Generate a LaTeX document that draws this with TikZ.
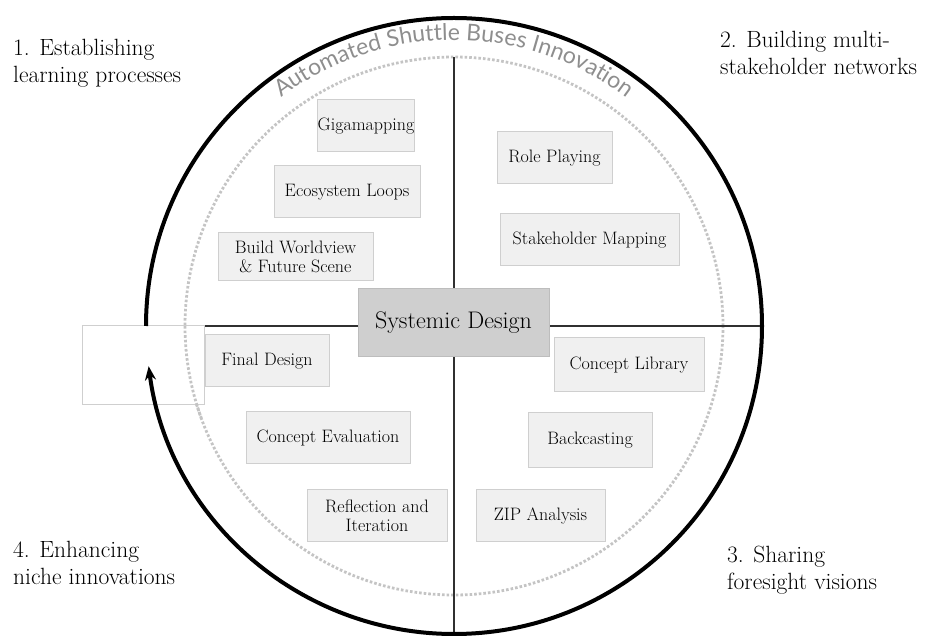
\documentclass[tikz,border=0pt]{standalone}
\usepackage{fontspec}
\usetikzlibrary{arrows.meta,decorations.text,calc}
\newfontfamily\arcfont{Lato}
\definecolor{boxfill}{HTML}{F0F0F0}
\definecolor{boxline}{HTML}{CFCFCF}
\definecolor{centerfill}{HTML}{CFCFCF}
\definecolor{centerline}{HTML}{BDBDBD}
\definecolor{dotgray}{HTML}{C4C4C4}
\definecolor{arcgray}{HTML}{8E8E8E}
\definecolor{axisline}{HTML}{303030}
\tikzset{
  x=1pt, y=1pt,
  methodbox/.style={draw=boxline, fill=boxfill, line width=1pt, inner sep=0pt, align=center,
    font=\fontsize{18}{19.5}\selectfont},
  centerbox/.style={draw=centerline, fill=centerfill, line width=1pt, inner sep=0pt,
    font=\fontsize{24}{26}\selectfont},
  emptybox/.style={draw=boxline, fill=white, line width=1pt, inner sep=0pt},
  cornerlabel/.style={inner sep=0pt, align=left, font=\fontsize{23.5}{26.5}\selectfont},
  axis/.style={draw=axisline, line width=2pt},
  outerring/.style={draw=black, line width=4pt},
  dotring/.style={draw=dotgray, line width=2.8pt, dash pattern=on 2.6pt off 2pt},
}
\begin{document}
\begin{tikzpicture}
\useasboundingbox (0,0) rectangle (927,635);
\coordinate (O) at (454,309);
\coordinate (Ltop) at ($(O)+(0,269)$);
\coordinate (Lbot) at ($(O)+(0,-308)$);
\coordinate (Lleft) at ($(O)+(-308,0)$);
\coordinate (Lright) at ($(O)+(308,0)$);
\coordinate (ArcS) at ($(O)+(130:286)$);
\coordinate (DotS) at ($(O)+(180:269)$);

% dotted inner ring
\draw[dotring] (O) circle[radius=269];

% axes
\draw[axis] (Ltop) -- (Lbot);
\draw[axis] (Lleft) -- (Lright);

% empty box
\node[emptybox, minimum width=122pt, minimum height=79pt] (empty) at (143,269.5) {};
\draw[dotring] (DotS) arc[start angle=180, end angle=200, radius=269];

% outer ring with arrow
\draw[outerring, -{Stealth[length=14pt,width=11pt]}] (Lleft) arc[start angle=180, end angle=-172.5, radius=308];

% arc text
\path[decorate, decoration={text along path, text color=arcgray, text align=center,
  text={|\arcfont\fontsize{23}{23}\selectfont|Automated Shuttle Buses Innovation}}]
  (ArcS) arc[start angle=130, end angle=50, radius=286];

% method boxes
\node[methodbox, minimum width=96pt, minimum height=52pt] (giga) at (366,509) {Gigamapping};
\node[methodbox, minimum width=146pt, minimum height=52pt] (eco) at (347,443) {Ecosystem Loops};
\node[methodbox, minimum width=155pt, minimum height=48pt] (world) at (295.5,378) {Build Worldview\\\& Future Scene};
\node[methodbox, minimum width=115pt, minimum height=52pt] (role) at (554.5,477) {Role Playing};
\node[methodbox, minimum width=179pt, minimum height=52pt] (stake) at (589.5,395) {Stakeholder Mapping};
\node[centerbox, minimum width=191pt, minimum height=68pt] (sd) at (453.5,312) {Systemic Design};
\node[methodbox, minimum width=124pt, minimum height=52pt] (final) at (267,274) {Final Design};
\node[methodbox, minimum width=150pt, minimum height=54pt] (lib) at (629,270) {Concept Library};
\node[methodbox, minimum width=164pt, minimum height=52pt] (eval) at (328,197) {Concept Evaluation};
\node[methodbox, minimum width=124pt, minimum height=55pt] (back) at (590,194.5) {Backcasting};
\node[methodbox, minimum width=140pt, minimum height=52pt] (refl) at (377,119) {Reflection and\\Iteration};
\node[methodbox, minimum width=129pt, minimum height=52pt] (zip) at (540.5,119) {ZIP Analysis};

% corner labels
\node[cornerlabel, anchor=north west] (q1) at (13,596) {1. Establishing\\learning processes};
\node[cornerlabel, anchor=north west] (q2) at (720,604) {2. Building multi-\\stakeholder networks};
\node[cornerlabel, anchor=north west] (q3) at (727,89) {3. Sharing\\foresight visions};
\node[cornerlabel, anchor=north west] (q4) at (13,94) {4. Enhancing\\niche innovations};
\end{tikzpicture}
\end{document}
